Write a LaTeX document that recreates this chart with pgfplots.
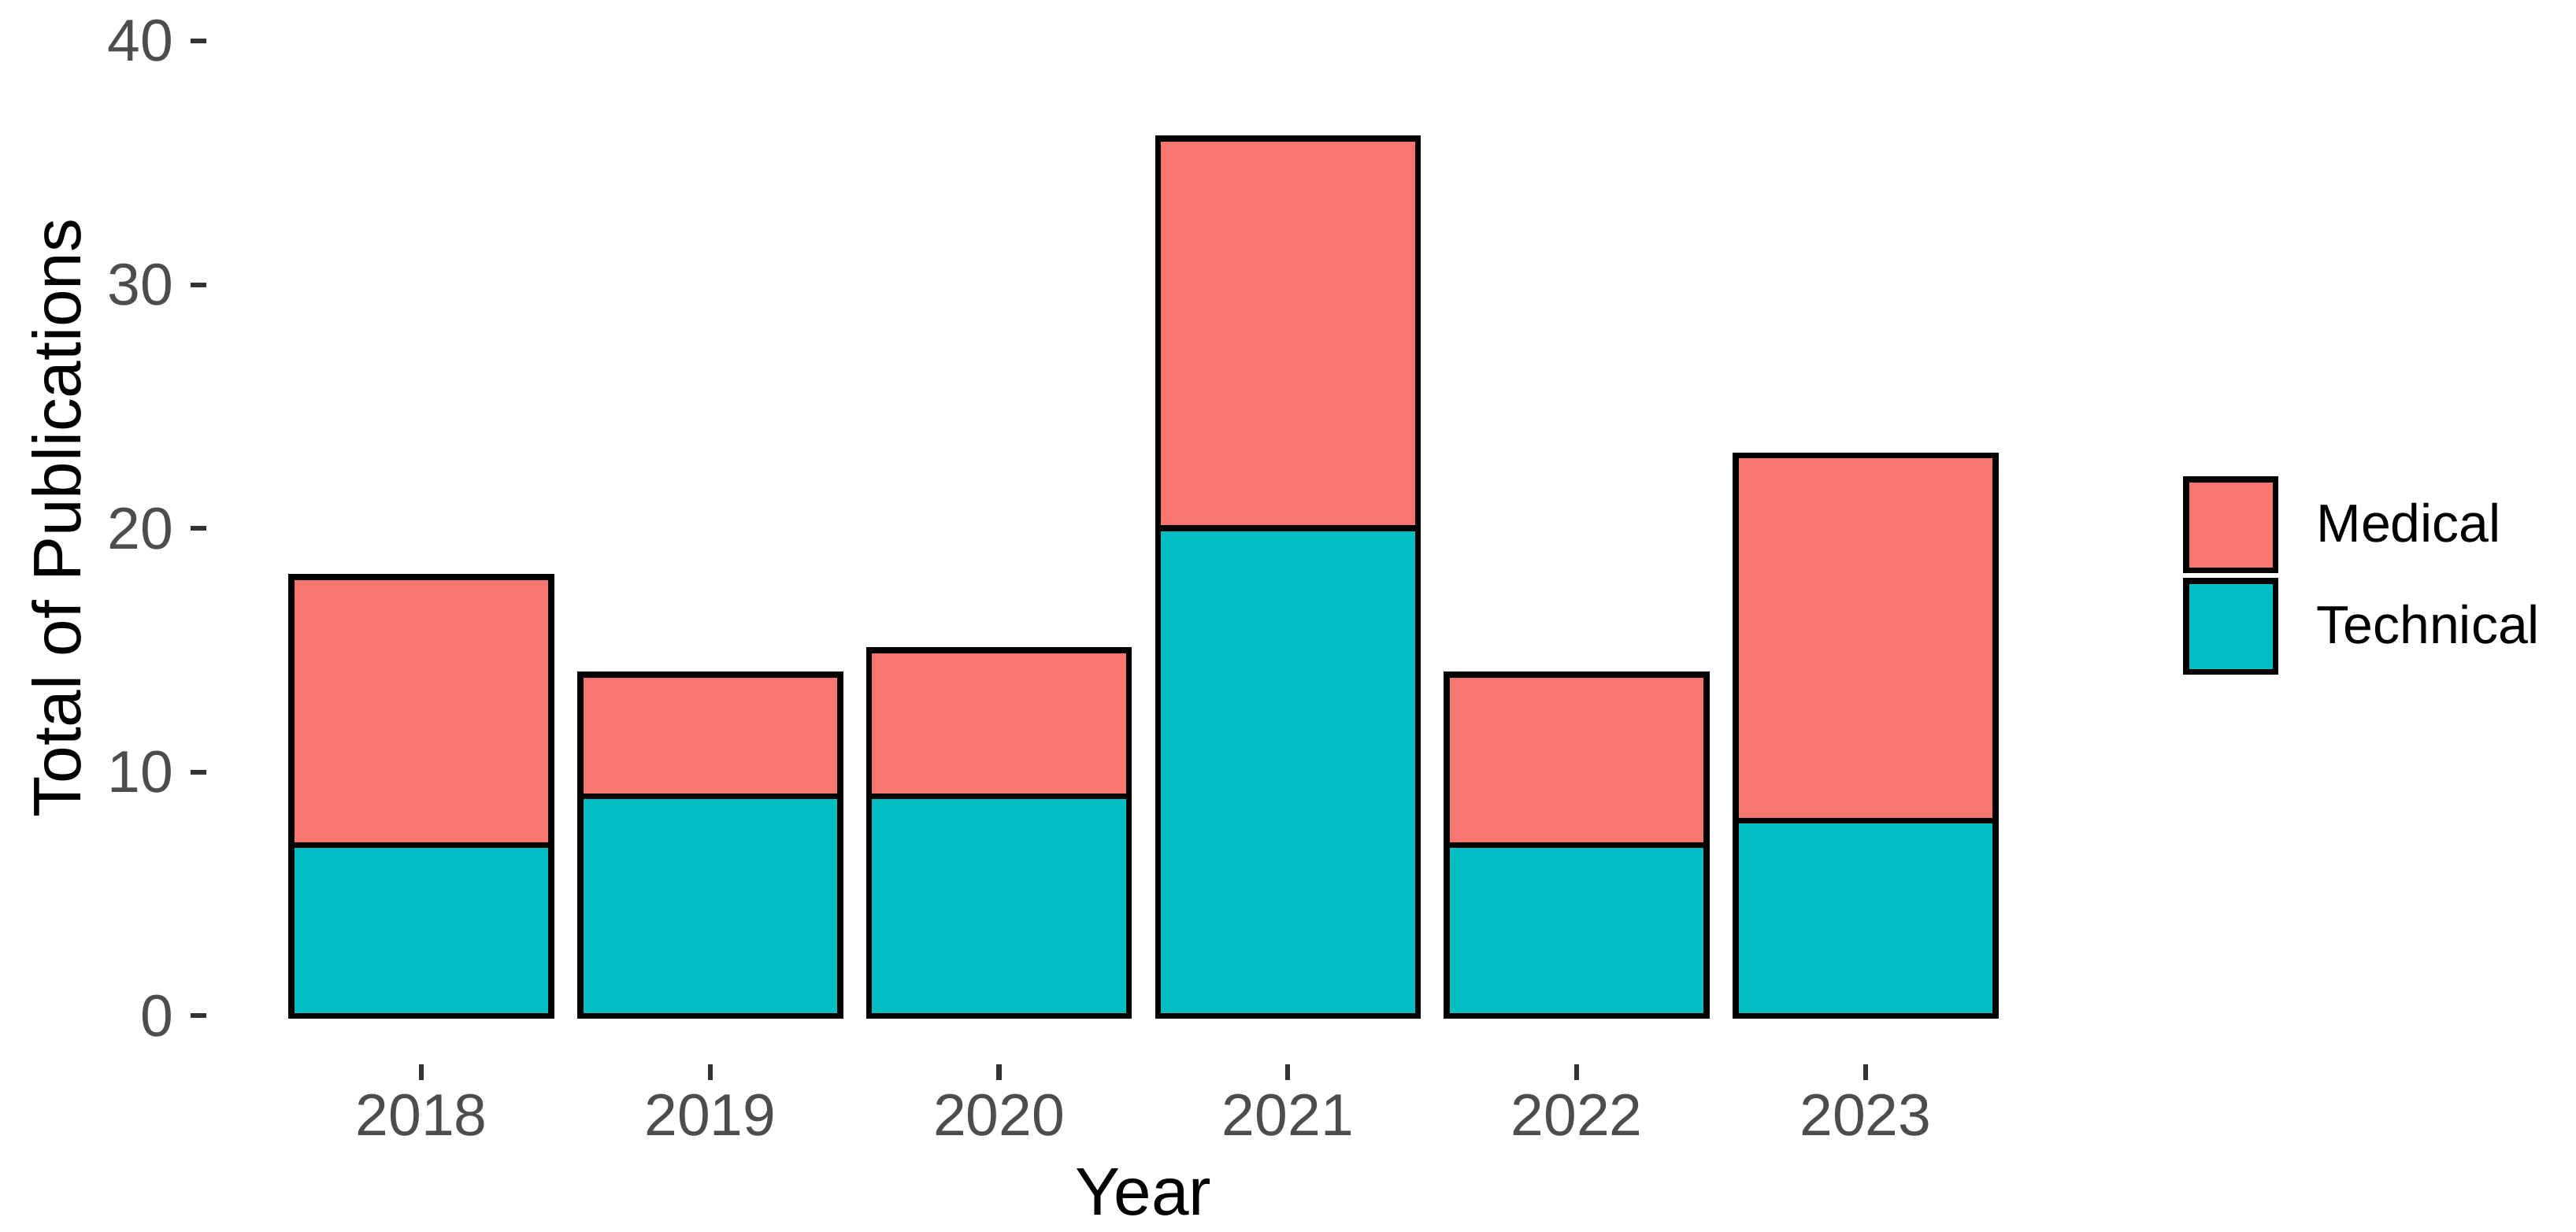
\documentclass[border=0pt]{standalone}
\usepackage{fontspec}
\setmainfont{Liberation Sans}
\usepackage{pgfplots}
\pgfplotsset{compat=1.18}
\definecolor{medical}{HTML}{F8766D}
\definecolor{technical}{HTML}{00BFC4}
\definecolor{ticktext}{HTML}{4D4D4D}
\definecolor{tickmark}{HTML}{333333}
\begin{document}
\begin{tikzpicture}
\begin{axis}[
  at={(62.75pt,50.9pt)}, anchor=south west,
  scale only axis,
  width=570.5pt, height=326.45pt,
  xmin=2017.255, xmax=2023.745,
  ymin=-2, ymax=42,
  axis line style={draw=none},
  ybar stacked, bar width=0.9,
  xtick={2018,2019,2020,2021,2022,2023},
  xticklabels={2018,2019,2020,2021,2022,2023},
  ytick={0,10,20,30,40},
  tick align=outside,
  major tick length=4.8pt,
  every major tick/.append style={draw=tickmark, line width=1.5pt},
  xtick pos=bottom, ytick pos=left,
  /pgf/number format/assume math mode=true,
  ticklabel style={font=\fontsize{18}{18}\selectfont, text=ticktext},
  xticklabel style={inner sep=0pt, yshift=-4pt},
  yticklabel style={inner sep=0pt, xshift=-5pt},
  xlabel={Year},
  ylabel={Total of Publications},
  label style={font=\fontsize{20.5}{20.5}\selectfont, text=black, inner sep=0pt},
  xlabel style={at={(axis description cs:0.5,-0.1406)}, anchor=base},
  ylabel style={at={(axis description cs:-0.0798,0.5097)}, anchor=center, rotate=0},
  reverse legend,
  legend style={
    at={(axis description cs:1.0548,0.5486)}, anchor=north west,
    draw=none, fill=none, inner sep=0pt, outer sep=0pt,
    row sep=1.5pt, column sep=11.5pt,
    nodes={inner sep=0pt, anchor=west},
    font=\fontsize{16.3}{16.3}\selectfont,
  },
  legend cell align=left,
  mykey/.style={legend image code/.code={
    \draw[##1, line width=1.8pt] (0.9pt,-13.85pt) rectangle (28.1pt,13.85pt);}},
]
\addplot+[fill=technical, draw=black, line width=1.8pt, mykey] coordinates {
  (2018,7) (2019,9) (2020,9) (2021,20) (2022,7) (2023,8)};
\addlegendentry{Technical}
\addplot+[fill=medical, draw=black, line width=1.8pt, mykey] coordinates {
  (2018,11) (2019,5) (2020,6) (2021,16) (2022,7) (2023,15)};
\addlegendentry{Medical}
\end{axis}
\pgfresetboundingbox
\useasboundingbox (0,0) rectangle (784pt,375pt);
\end{tikzpicture}
\end{document}
